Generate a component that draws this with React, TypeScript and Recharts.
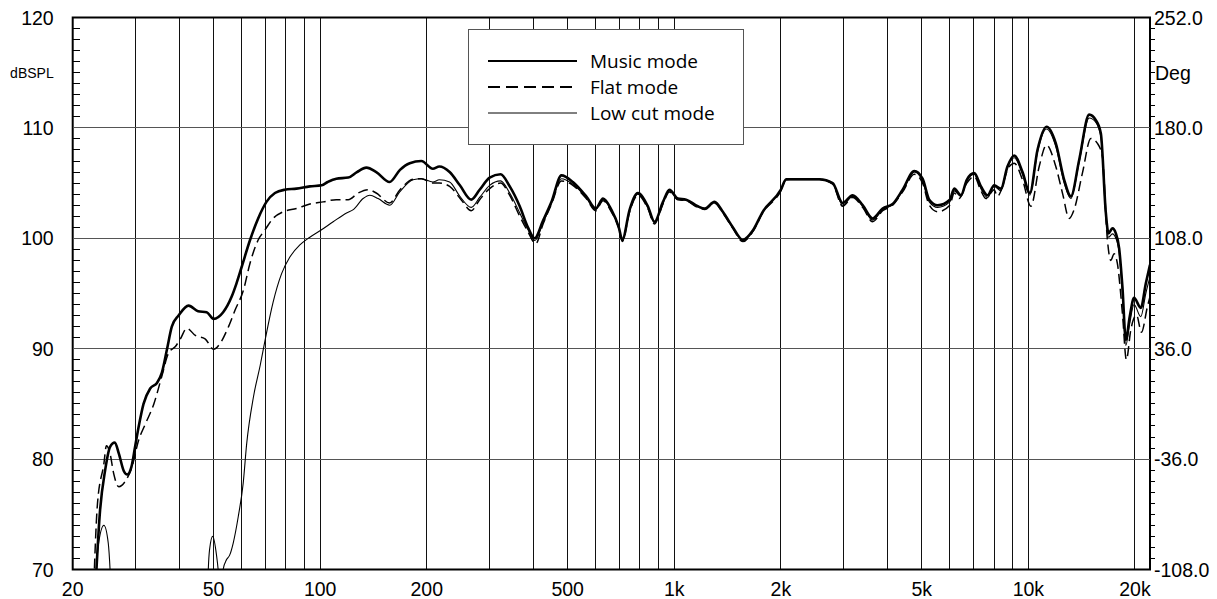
import {
  LineChart,
  Line,
  XAxis,
  YAxis,
  CartesianGrid,
  ReferenceLine,
  ReferenceArea,
  Legend,
} from 'recharts';

// [Hz, dB SPL]
const musicMode: [number, number][] = [
  [23.0, 66], [23.9, 75.4], [24.7, 79.0], [25.5, 81.1], [26.3, 81.5], [27.0, 80.5],
  [27.9, 78.9], [28.5, 78.6], [29.3, 79.3], [30.0, 81.1], [30.7, 82.9], [31.7, 85.0],
  [33.1, 86.4], [34.6, 86.9], [35.7, 87.8], [36.9, 89.9], [38.1, 92.0], [39.8, 93.0],
  [42.5, 93.9], [45.2, 93.4], [47.8, 93.3], [50.0, 92.7], [53.2, 93.3], [56.2, 94.7],
  [58.0, 95.9], [60.0, 97.4], [63.3, 99.8], [66.8, 101.8], [70.5, 103.3], [74.5, 104.1],
  [79.4, 104.4], [85.7, 104.5], [93.5, 104.7], [101, 104.8], [105, 105.1], [111, 105.4],
  [120, 105.5], [127, 106.0], [135, 106.4], [144, 106.0], [157, 105.1], [168, 106.2],
  [179, 106.8], [193, 107.0], [208, 106.3], [217, 106.5], [232, 106.0], [248, 104.8],
  [267, 103.5], [282, 104.4], [301, 105.5], [323, 105.8], [343, 104.7], [366, 102.9],
  [386, 101.0], [403, 100.0], [426, 101.6], [450, 103.3], [480, 105.7], [517, 105.1],
  [564, 103.8], [600, 102.7], [629, 103.6], [664, 102.6], [697, 101.0], [713, 99.85],
  [748, 102.6], [789, 104.1], [842, 102.9], [879, 101.5], [929, 103.3], [969, 104.4],
  [1023, 103.6], [1080, 103.5], [1165, 102.9], [1220, 102.7], [1299, 103.3], [1371, 102.4],
  [1463, 101.0], [1561, 99.85], [1666, 100.7], [1777, 102.4], [2000, 104.4], [2069, 105.35],
  [2255, 105.35], [2569, 105.35], [2801, 105.0], [2988, 103.2], [3189, 103.9], [3403, 103.0],
  [3631, 101.8], [3875, 102.7], [4136, 103.1], [4414, 104.4], [4762, 106.1], [5025, 105.4],
  [5248, 103.5], [5541, 103.0], [6000, 103.5], [6174, 104.5], [6450, 103.9], [6700, 105.3],
  [7031, 105.9], [7345, 104.7], [7667, 103.9], [8006, 104.8], [8362, 104.5], [8728, 106.5],
  [9118, 107.5], [9624, 106.0], [10096, 104.1], [10609, 108.0], [11247, 110.1], [11951, 108.6],
  [12619, 105.3], [13183, 103.8], [13912, 107.1], [14846, 111.2], [15507, 110.7], [16019, 109.5],
  [16547, 102.3], [16831, 100.45], [17272, 100.9], [17657, 100.45], [18039, 99.1], [18430, 95.6],
  [18842, 90.8], [19326, 92.9], [19877, 94.6], [20771, 93.7], [21456, 95.9], [22050, 97.6],
];

const flatMode: [number, number][] = [
  [22.8, 66], [23.5, 76.0], [24.5, 79.6], [24.9, 81.2], [25.5, 80.5], [26.1, 78.7],
  [27.0, 77.5], [28.1, 77.95], [29.4, 79.3], [30.7, 81.7], [32.1, 83.2], [33.9, 85.0],
  [35.7, 87.5], [37.3, 89.6], [39.0, 90.2], [40.3, 90.9], [42.0, 91.85], [44.4, 91.2],
  [47.3, 90.9], [50.0, 89.95], [52.2, 90.5], [55.1, 92.0], [57.5, 93.5], [60.7, 95.3],
  [63.3, 97.7], [66.8, 99.85], [69.8, 100.75], [73.6, 101.8], [78.6, 102.4], [85.7, 102.7],
  [93.5, 103.1], [102, 103.3], [111, 103.5], [120, 103.5], [128, 104.1], [136.5, 104.4],
  [144, 104.1], [157, 103.2], [168, 104.4], [183, 105.35], [193, 105.4], [208, 105.0],
  [217, 105.0], [232, 104.7], [250, 103.5], [267, 102.5], [282, 103.5], [301, 104.5],
  [323, 105.0], [343, 103.9], [366, 102.0], [386, 100.6], [406, 99.5], [426, 101.3],
  [450, 103.1], [480, 105.2], [517, 104.8], [564, 103.6], [600, 102.5], [629, 103.4],
  [664, 102.4], [697, 100.9], [713, 99.7], [748, 102.4], [789, 103.9], [842, 102.7],
  [879, 101.3], [929, 103.1], [969, 104.2], [1023, 103.5], [1080, 103.4], [1165, 102.8],
  [1220, 102.6], [1299, 103.2], [1371, 102.3], [1463, 100.9], [1561, 99.7], [1666, 100.6],
  [1777, 102.3], [2000, 104.3], [2069, 105.3], [2255, 105.4], [2569, 105.4], [2801, 104.9],
  [2988, 102.9], [3189, 103.7], [3403, 102.8], [3631, 101.5], [3875, 102.5], [4136, 103.0],
  [4414, 104.2], [4762, 105.8], [5025, 105.0], [5248, 103.0], [5541, 102.4], [6000, 103.0],
  [6174, 104.1], [6375, 103.6], [6700, 105.0], [7031, 105.6], [7345, 104.3], [7589, 103.6],
  [8006, 104.4], [8170, 103.8], [8830, 106.5], [9118, 106.8], [9624, 105.3], [10164, 102.9],
  [10727, 106.5], [11247, 108.45], [11951, 106.5], [12500, 104.0], [13032, 101.8], [13462, 102.6],
  [14208, 105.9], [15010, 109.05], [15664, 108.6], [16183, 107.4], [16716, 99.85], [17090, 98.0],
  [17460, 98.6], [17838, 97.7], [18430, 93.2], [18912, 89.0], [19460, 91.7], [20203, 93.05],
  [20854, 91.5], [21680, 93.8], [22050, 94.7],
];

const lowCutMode: [number, number][] = [
  [23.0, 66], [23.6, 72.1], [24.5, 74.0], [25.2, 72.4], [25.5, 70], [25.9, 64],
  [47.8, 64], [48.3, 70], [48.7, 71.8], [49.7, 73.0], [51.0, 71.2], [51.5, 70],
  [52.3, 67], [53.2, 70], [54.4, 70.9], [55.5, 71.3], [56.8, 72.4], [58.7, 74.8],
  [60.6, 77.8], [62.0, 81.4], [64.8, 85.65], [67.7, 88.5], [70.0, 90.9], [73.6, 94.2],
  [77.8, 96.8], [82.1, 98.3], [87.6, 99.4], [93.5, 100.1], [100.6, 100.75], [108.8, 101.5],
  [118.7, 102.3], [124, 102.6], [132.2, 103.6], [138.1, 103.9], [145.7, 103.6], [157.2, 103.0],
  [167.7, 104.2], [182.9, 105.3], [193.1, 105.4], [208, 105.1], [217, 105.3], [232, 105.1],
  [248, 103.8], [267, 102.8], [282, 103.7], [301, 104.8], [323, 105.2], [343, 104.1],
  [366, 102.3], [386, 100.8], [404, 99.8], [426, 101.4], [450, 103.2], [480, 105.4],
  [517, 104.9], [564, 103.7], [600, 102.6], [629, 103.5], [664, 102.5], [697, 100.95],
  [713, 99.8], [748, 102.5], [789, 104.0], [842, 102.8], [879, 101.4], [929, 103.2],
  [969, 104.3], [1023, 103.55], [1080, 103.45], [1165, 102.85], [1220, 102.65], [1299, 103.25],
  [1371, 102.35], [1463, 100.95], [1561, 99.8], [1666, 100.65], [1777, 102.35], [2000, 104.35],
  [2069, 105.3], [2255, 105.3], [2569, 105.3], [2801, 104.95], [2988, 103.0], [3189, 103.8],
  [3403, 102.9], [3631, 101.65], [3875, 102.6], [4136, 103.05], [4414, 104.3], [4762, 106.0],
  [5025, 105.2], [5248, 103.3], [5541, 102.8], [6000, 103.3], [6174, 104.3], [6450, 103.8],
  [6700, 105.2], [7031, 105.8], [7345, 104.5], [7667, 103.7], [8006, 104.7], [8362, 104.3],
  [8728, 106.4], [9118, 107.3], [9624, 105.8], [10096, 103.9], [10609, 107.8], [11247, 109.9],
  [11951, 108.3], [12619, 105.0], [13183, 103.6], [13912, 106.9], [14846, 110.9], [15507, 110.5],
  [16019, 109.2], [16547, 102.0], [16831, 100.1], [17272, 100.4], [17657, 100.0], [18039, 98.7],
  [18430, 95.0], [18842, 90.3], [19326, 92.3], [19877, 94.0], [20771, 92.9], [21456, 95.0],
  [22050, 96.5],
];

const freqTicks = [
  20, 30, 40, 50, 60, 70, 80, 90, 100, 200, 300, 400, 500, 600, 700, 800, 900,
  1000, 2000, 3000, 4000, 5000, 6000, 7000, 8000, 9000, 10000, 20000,
];
const freqLabels: Record<number, string> = {
  20: '20', 50: '50', 100: '100', 200: '200', 500: '500',
  1000: '1k', 2000: '2k', 5000: '5k', 10000: '10k', 20000: '20k',
};
const splGrid = [80, 90, 100, 110];
const splLabels = [70, 80, 90, 100, 110, 120];
const degLabels = [-108, -36, 36, 108, 180, 252];

// minor ticks every 1 dB / 7.2 deg
const splTicks = Array.from({ length: 51 }, (_, i) => 70 + i);
const degTicks = Array.from({ length: 51 }, (_, i) => Math.round((-108 + 7.2 * i) * 10) / 10);

const series = [
  { key: 'lowcut', name: 'Low cut mode', data: lowCutMode, width: 1.1, dash: undefined, legendDash: undefined },
  { key: 'flat', name: 'Flat mode', data: flatMode, width: 1.5, dash: '10 5', legendDash: '12 6' },
  { key: 'music', name: 'Music mode', data: musicMode, width: 2.6, dash: undefined, legendDash: undefined },
];
const legendOrder = ['Music mode', 'Flat mode', 'Low cut mode'];

const axisFont = {
  fontFamily: '"Liberation Sans", Arial, sans-serif',
  fontSize: 19.5,
  fill: '#000',
};

function SplTick({ x, y, payload }: any) {
  const v = payload.value;
  if (splLabels.includes(v)) {
    return (
      <text x={x - 19} y={y} dy={7} textAnchor="end" style={axisFont}>
        {v}
      </text>
    );
  }
  return (
    <g>
      <line x1={x} x2={x + 7} y1={y} y2={y} stroke="#000" strokeWidth={1} shapeRendering="crispEdges" />
      {v === 115 && (
        <text x={x - 19} y={y} dy={5} textAnchor="end" style={{ ...axisFont, fontSize: 14 }}>
          dBSPL
        </text>
      )}
    </g>
  );
}

function DegTick({ x, y, payload }: any) {
  const v = payload.value;
  const label = degLabels.find((d) => Math.abs(d - v) < 0.01);
  return (
    <g>
      {label === undefined && (
        <line x1={x} x2={x + 5} y1={y} y2={y} stroke="#000" strokeWidth={1} shapeRendering="crispEdges" />
      )}
      {label !== undefined && (
        <text x={x + 4} y={y} dy={7} textAnchor="start" style={axisFont}>
          {label.toFixed(1)}
        </text>
      )}
      {Math.abs(v - 216) < 0.01 && (
        <text x={x + 5} y={y} dy={7} textAnchor="start" style={axisFont}>
          Deg
        </text>
      )}
    </g>
  );
}

function HzTick({ x, y, payload }: any) {
  const label = freqLabels[payload.value];
  if (!label) return <g />;
  return (
    <text x={x} y={y + 26.5} textAnchor="middle" style={axisFont}>
      {label}
    </text>
  );
}

function LegendBox() {
  const rows = legendOrder.map((n) => series.find((s) => s.name === n)!);
  return (
    <svg width={276} height={116} style={{ display: 'block' }}>
      <rect x={0.5} y={0.5} width={275} height={115} fill="#fff" stroke="#555" strokeWidth={1} />
      {rows.map((s, i) => {
        const cy = 32 + i * 26;
        return (
          <g key={s.key}>
            <line
              x1={20}
              x2={109}
              y1={cy}
              y2={cy}
              stroke="#000"
              strokeWidth={s.key === 'music' ? 2.2 : s.key === 'flat' ? 1.8 : 1}
              strokeDasharray={s.legendDash}
            />
            <text
              x={122}
              y={cy}
              dy={6.5}
              style={{ fontFamily: '"Open Sans", "Noto Sans", sans-serif', fontSize: 19, fill: '#000' }}
            >
              {s.name}
            </text>
          </g>
        );
      })}
    </svg>
  );
}

export default function App() {
  return (
    <>
      <style>{'body{margin:0;background:#fff}'}</style>
      <LineChart width={1217} height={599} margin={{ top: 17.5, right: 0, bottom: 0, left: 0 }}>
        <CartesianGrid horizontal={false} stroke="#111" strokeWidth={1} shapeRendering="crispEdges" />
        {splGrid.map((v) => (
          <ReferenceLine key={v} y={v} stroke="#555" strokeWidth={1} shapeRendering="crispEdges" />
        ))}
        <XAxis
          dataKey="hz"
          type="number"
          scale="log"
          domain={[20, 22050]}
          allowDataOverflow
          ticks={freqTicks}
          interval={0}
          tickSize={0}
          tickMargin={0}
          tickLine={false}
          axisLine={false}
          height={29.5}
          tick={<HzTick />}
        />
        <YAxis
          type="number"
          domain={[70, 120]}
          allowDataOverflow
          ticks={splTicks}
          interval={0}
          tickSize={0}
          tickMargin={0}
          tickLine={false}
          axisLine={false}
          width={72.7}
          tick={<SplTick />}
        />
        <YAxis
          yAxisId="deg"
          orientation="right"
          type="number"
          domain={[-108, 252]}
          allowDataOverflow
          ticks={degTicks}
          interval={0}
          tickSize={0}
          tickMargin={0}
          tickLine={false}
          axisLine={false}
          width={67}
          tick={<DegTick />}
        />
        {series.map((s) => (
          <Line
            key={s.key}
            name={s.name}
            data={s.data.map(([hz, db]) => ({ hz, db }))}
            dataKey="db"
            type="monotone"
            stroke="#000"
            strokeWidth={s.width}
            strokeDasharray={s.dash}
            dot={false}
            activeDot={false}
            isAnimationActive={false}
          />
        ))}
        <ReferenceArea x1={20} x2={22050} y1={70} y2={120} fill="none" stroke="#000" strokeWidth={2} />
        <Legend
          layout="horizontal"
          verticalAlign="middle"
          align="center"
          wrapperStyle={{ left: 468, top: 29, width: 276, height: 116 }}
          content={() => <LegendBox />}
        />
      </LineChart>
    </>
  );
}
